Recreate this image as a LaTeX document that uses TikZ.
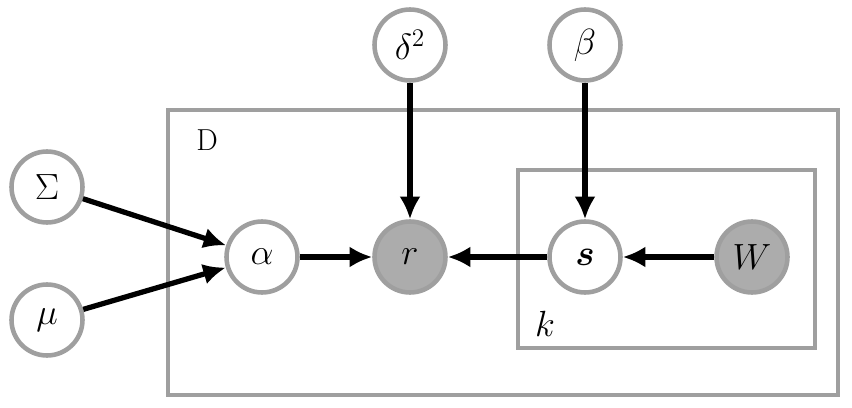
\documentclass[tikz,border=0pt]{standalone}
\usepackage{amsmath, amssymb}
\usetikzlibrary{positioning, arrows.meta}
\tikzset{
  var/.style={circle, draw=gray!75, line width=2.6pt, fill=white, minimum size=1.42cm, inner sep=0pt, font=\huge},
  obs/.style={var, fill=gray!65},
  plate/.style={draw=gray!75, line width=2.2pt},
  edge/.style={-{Latex[length=4.5mm,width=4.2mm]}, line width=3pt}
}
\begin{document}
\begin{tikzpicture}[x=0.02cm, y=-0.02cm]
  \useasboundingbox (0,0) rectangle (852,408);
  \draw[plate] (168,110) rectangle (838,395);
  \draw[plate] (518,170) rectangle (815,348);
  \node[font=\LARGE] (D) at (207,140) {D};
  \node[font=\huge] (k) at (545,324) {$k$};

  \node[var] (Sigma) at (47,187) {$\Sigma$};
  \node[var] (mu) at (47,320) {$\mu$};
  \node[var] (alpha) at (262,257) {$\alpha$};
  \node[obs] (r) at (410,257) {$r$};
  \node[var] (s) at (585,257) {$\boldsymbol{s}$};
  \node[obs] (W) at (752,257) {$W$};
  \node[var] (delta) at (410,45) {$\delta^2$};
  \node[var] (beta) at (585,45) {$\beta$};

  \draw[edge] (Sigma) -- (alpha);
  \draw[edge] (mu) -- (alpha);
  \draw[edge] (alpha) -- (r);
  \draw[edge] (s) -- (r);
  \draw[edge] (W) -- (s);
  \draw[edge] (delta) -- (r);
  \draw[edge] (beta) -- (s);
\end{tikzpicture}
\end{document}
